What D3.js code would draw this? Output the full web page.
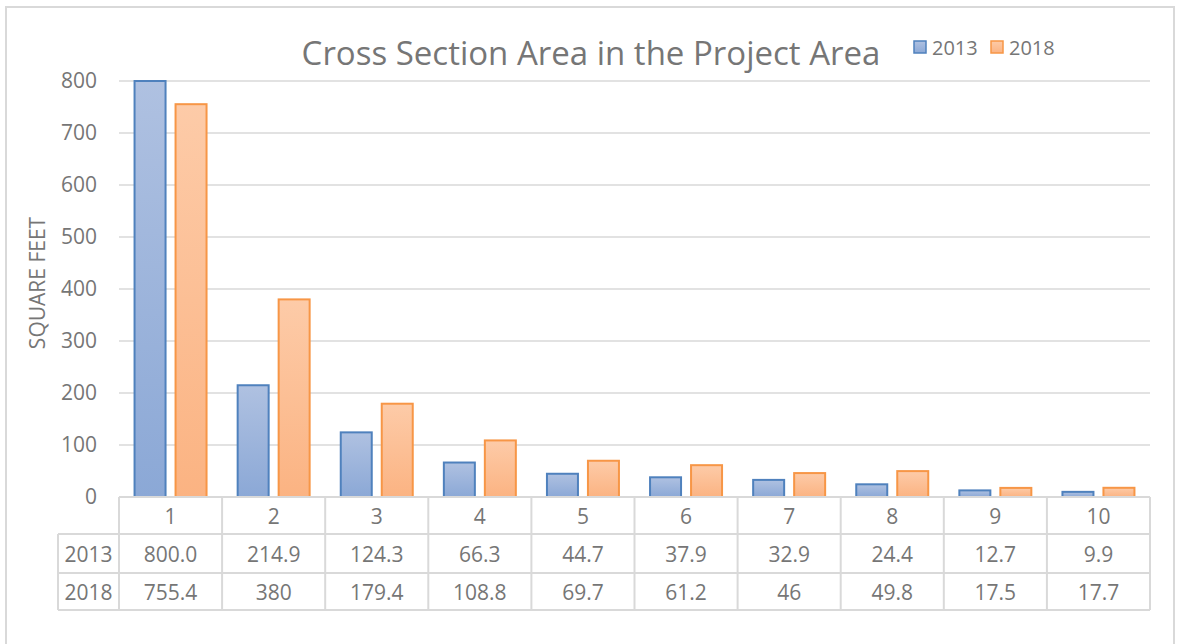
<!DOCTYPE html>
<html>
<head>
<meta charset="utf-8">
<script src="https://cdn.jsdelivr.net/npm/d3@7"></script>
<style>
  html, body { margin: 0; padding: 0; background: #fff; }
  svg { display: block; }
  text { font-family: "Open Sans", "Noto Sans", sans-serif; fill: #767676; }
</style>
</head>
<body>
<svg id="chart" width="1177" height="644"></svg>
<script>
// Cross section areas (square feet) per section, surveyed 2013 and 2018
const sections = ["1", "2", "3", "4", "5", "6", "7", "8", "9", "10"];
const years = ["2013", "2018"];
const area2013 = [800.0, 214.9, 124.3, 66.3, 44.7, 37.9, 32.9, 24.4, 12.7, 9.9];
const area2018 = [755.4, 380, 179.4, 108.8, 69.7, 61.2, 46, 49.8, 17.5, 17.7];
const label2013 = ["800.0", "214.9", "124.3", "66.3", "44.7", "37.9", "32.9", "24.4", "12.7", "9.9"];
const label2018 = ["755.4", "380", "179.4", "108.8", "69.7", "61.2", "46", "49.8", "17.5", "17.7"];
const yTicks = [0, 100, 200, 300, 400, 500, 600, 700, 800];

const svg = d3.select("#chart");

// outer chart frame
svg.append("rect")
  .attr("x", 6).attr("y", 7).attr("width", 1168).attr("height", 640)
  .attr("fill", "#fff").attr("stroke", "#d9d9d9").attr("stroke-width", 2);

const plot = { left: 119, right: 1150, top: 81, bottom: 497 };

const x = d3.scaleBand().domain(sections).range([plot.left, plot.right]).paddingInner(0).paddingOuter(0);
const xs = d3.scaleBand().domain(years).range([0, x.bandwidth()]).paddingInner(0.195).paddingOuter(0.355);
const y = d3.scaleLinear().domain([0, 800]).range([plot.bottom, plot.top]);

// gradients
const defs = svg.append("defs");
function grad(id, top, bottom) {
  const g = defs.append("linearGradient").attr("id", id)
    .attr("x1", 0).attr("y1", 0).attr("x2", 0).attr("y2", 1);
  g.append("stop").attr("offset", "0%").attr("stop-color", top);
  g.append("stop").attr("offset", "100%").attr("stop-color", bottom);
}
grad("g2013", "#afc1e1", "#8ba8d6");
grad("g2018", "#fdcba8", "#fbb382");
const fills = { "2013": "url(#g2013)", "2018": "url(#g2018)" };
const strokes = { "2013": "#4f81bd", "2018": "#f79646" };

// gridlines
svg.append("g")
  .selectAll("line").data(yTicks.filter(d => d > 0)).join("line")
  .attr("x1", plot.left).attr("x2", plot.right)
  .attr("y1", d => y(d)).attr("y2", d => y(d))
  .attr("stroke", "#d9d9d9").attr("stroke-width", 1.5);

// y axis labels
const yAxis = d3.axisLeft(y).tickValues(yTicks).tickSize(0).tickPadding(0);
const yg = svg.append("g").attr("transform", `translate(97,0)`).call(yAxis);
yg.select(".domain").remove();
yg.selectAll("text").style("font-size", "21px").style("fill", "#767676")
  .style("font-family", "'Open Sans', sans-serif");

// y axis title
svg.append("text")
  .attr("transform", `translate(45,${(plot.top + plot.bottom) / 2 - 6}) rotate(-90)`)
  .attr("text-anchor", "middle")
  .style("font-size", "21px")
  .text("SQUARE FEET");

// bars
const rows = sections.map((s, i) => ({ s, "2013": area2013[i], "2018": area2018[i] }));
const groups = svg.append("g").selectAll("g").data(rows).join("g")
  .attr("transform", d => `translate(${x(d.s)},0)`);
groups.selectAll("rect").data(d => years.map(k => ({ k, v: d[k] }))).join("rect")
  .attr("x", d => xs(d.k) + 1)
  .attr("width", xs.bandwidth() - 2)
  .attr("y", d => y(d.v))
  .attr("height", d => y(0) - y(d.v))
  .attr("fill", d => fills[d.k])
  .attr("stroke", d => strokes[d.k])
  .attr("stroke-width", 2);

// data table under the plot
const tbl = { left: 58, top: 497, h0: 37, h1: 39, h2: 37 };
const rowY = [tbl.top, tbl.top + tbl.h0, tbl.top + tbl.h0 + tbl.h1, tbl.top + tbl.h0 + tbl.h1 + tbl.h2];
const tg = svg.append("g");
const lineColor = "#d9d9d9";
tg.append("line").attr("x1", plot.left).attr("x2", plot.right).attr("y1", rowY[0]).attr("y2", rowY[0])
  .attr("stroke", lineColor).attr("stroke-width", 2);
[1, 2, 3].forEach(r => {
  tg.append("line").attr("x1", tbl.left).attr("x2", plot.right).attr("y1", rowY[r]).attr("y2", rowY[r])
    .attr("stroke", lineColor).attr("stroke-width", 2);
});
tg.append("line").attr("x1", tbl.left).attr("x2", tbl.left).attr("y1", rowY[1]).attr("y2", rowY[3])
  .attr("stroke", lineColor).attr("stroke-width", 2);
const vx = sections.map(s => x(s)).concat([plot.right]);
tg.selectAll("line.v").data(vx).join("line").attr("class", "v")
  .attr("x1", d => d).attr("x2", d => d).attr("y1", rowY[0]).attr("y2", rowY[3])
  .attr("stroke", lineColor).attr("stroke-width", 2);

const cellFont = "21px";
tg.selectAll("text.h").data(sections).join("text").attr("class", "h")
  .attr("x", d => x(d) + x.bandwidth() / 2).attr("y", (rowY[0] + rowY[1]) / 2 + 8)
  .attr("text-anchor", "middle").style("font-size", cellFont).text(d => d);
[["2013", label2013], ["2018", label2018]].forEach(([yr, labels], r) => {
  const cy = (rowY[r + 1] + rowY[r + 2]) / 2 + 8;
  tg.append("text").attr("x", (tbl.left + plot.left) / 2).attr("y", cy)
    .attr("text-anchor", "middle").style("font-size", cellFont).text(yr);
  tg.selectAll(`text.r${yr}`).data(labels).join("text").attr("class", `r${yr}`)
    .attr("x", (d, i) => x(sections[i]) + x.bandwidth() / 2).attr("y", cy)
    .attr("text-anchor", "middle").style("font-size", cellFont).text(d => d);
});

// title
svg.append("text").attr("x", 591).attr("y", 65).attr("text-anchor", "middle")
  .style("font-size", "33px").style("fill", "#767676")
  .text("Cross Section Area in the Project Area");

// legend
const lg = svg.append("g").attr("transform", "translate(913,39)");
years.forEach((yr, i) => {
  const gx = i * 77;
  lg.append("rect").attr("x", gx + 1).attr("y", 2).attr("width", 12).attr("height", 12)
    .attr("fill", fills[yr]).attr("stroke", strokes[yr]).attr("stroke-width", 1.5);
  lg.append("text").attr("x", gx + 19).attr("y", 16).style("font-size", "20px").text(yr);
});
</script>
</body>
</html>
